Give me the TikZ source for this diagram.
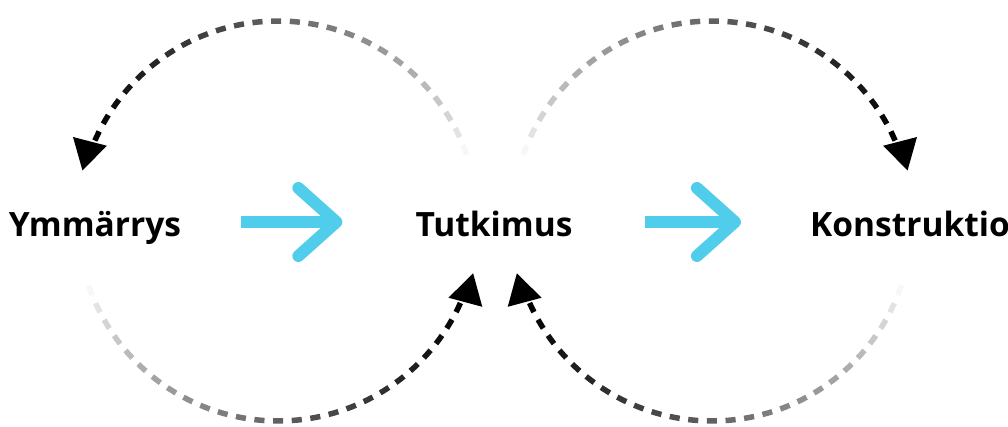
\documentclass[tikz,border=0pt]{standalone}
\usepackage{fontspec}
\setmainfont{Open Sans}
\usetikzlibrary{arrows.meta,calc}
\definecolor{flowblue}{HTML}{50CDEA}

% dashed arc around centre #1 that darkens towards a triangular tip
% #2 start angle, #3 tip angle, #4 direction (+1 ccw, -1 cw)
\newcommand\fadearc[4]{%
  \pgfmathsetmacro\arcsgn{#4}%
  \pgfmathtruncatemacro\arcn{floor((abs(#3-#2)-9.2-2.9)/5.36)}%
  \foreach \k in {0,...,\arcn}{%
    \pgfmathsetmacro\arcb{#3-\arcsgn*(9.2+\k*5.36)}%
    \pgfmathsetmacro\arca{\arcb-\arcsgn*2.9}%
    \pgfmathtruncatemacro\arcpct{3+97*(1-\k/\arcn)^0.75}%
    \draw[dashseg, draw=black!\arcpct] (#1) ++(\arca:200) arc[start angle=\arca, end angle=\arcb, radius=200];
  }%
  \pgfmathsetmacro\arcback{#3+\arcsgn*90+180}%
  \path (#1) ++(#3:202) coordinate (arctip);
  \fill[black] (arctip) -- ($(arctip)+(\arcback:30)+(#3:17.5)$)
    -- ($(arctip)+(\arcback:30)+(#3:-17.5)$) -- cycle;
}

\begin{document}
\begin{tikzpicture}[x=1pt,y=1pt,
  lbl/.style={font=\bfseries\fontsize{33.5}{40}\selectfont, inner sep=0pt,
    text height=24pt, text depth=7pt, anchor=center},
  flow/.style={draw=flowblue, line width=12pt, line cap=butt,
    -{Straight Barb[length=38pt,width=68pt,round]}},
  dashseg/.style={line width=5.5pt, line cap=butt}]
\useasboundingbox (0,0) rectangle (1008,427);

% labels: baseline at y = 190.5, centre 8.5pt above it
\node[lbl] (ym) at (95,199) {Ymmärrys};
\node[lbl] (tu) at (494,199) {Tutkimus};
\node[lbl] (ko) at (910,199) {Konstruktio};

\coordinate (cl) at (278,206);
\coordinate (cr) at (712,206);

% main flow arrows
\draw[flow] ([xshift=60pt,yshift=6pt]ym.east) -- ([xshift=-73pt,yshift=6pt]tu.west);
\draw[flow] ([xshift=72pt,yshift=6pt]tu.east) -- ([xshift=-69pt,yshift=6pt]ko.west);

% feedback loops
\fadearc{cl}{18}{165.5}{1}
\fadearc{cl}{198}{345}{1}
\fadearc{cr}{162}{14.5}{-1}
\fadearc{cr}{342}{195}{-1}
\end{tikzpicture}
\end{document}
